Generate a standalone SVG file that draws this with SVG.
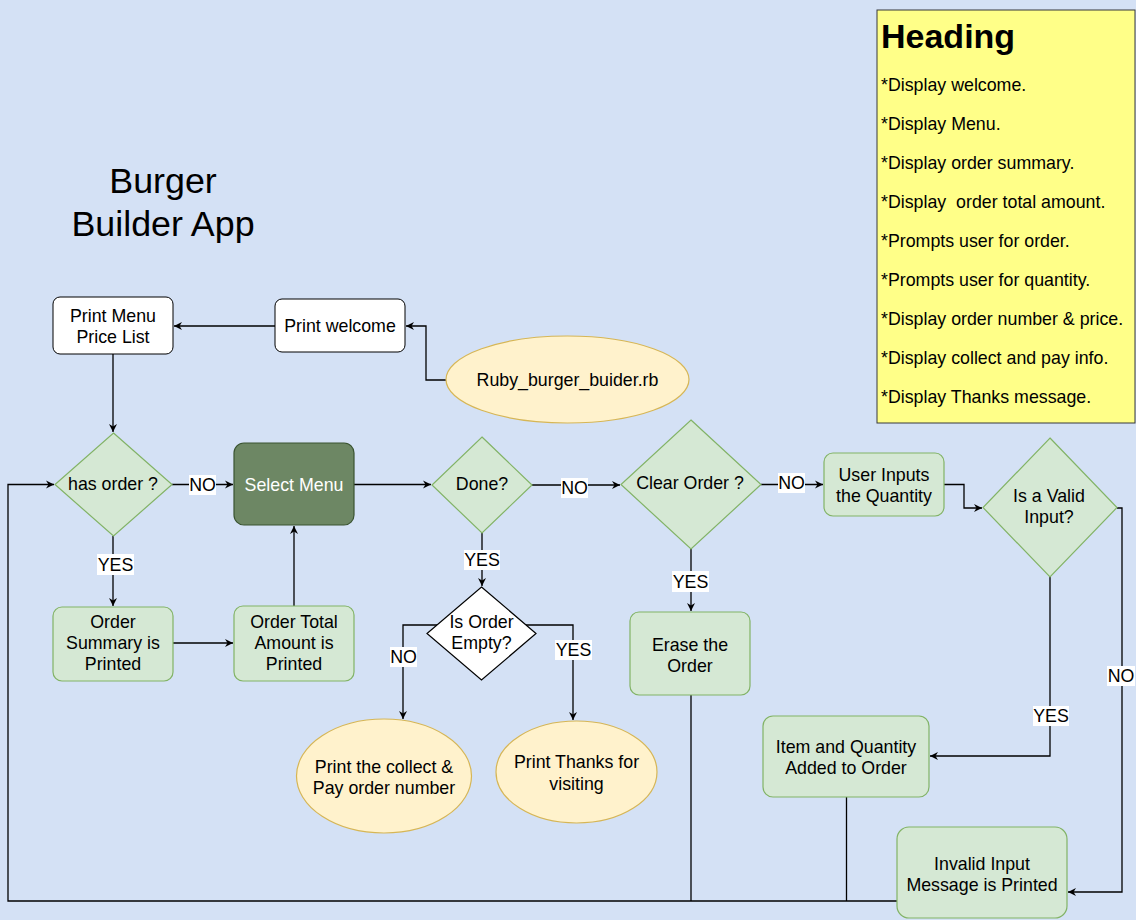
<svg xmlns="http://www.w3.org/2000/svg" width="1136" height="920" viewBox="0 0 1136 920">
<defs>
<marker id="arr" markerWidth="10" markerHeight="10" refX="9" refY="5" orient="auto" markerUnits="userSpaceOnUse">
<path d="M1,1 L9,5 L1,9 L3.5,5 z" fill="#000"/>
</marker>
<style>
text{font-family:"Liberation Sans",Arial,sans-serif;font-size:17.8px;fill:#000;text-anchor:middle}
.box{fill:#fff;stroke:#000;stroke-width:1}
.g{fill:#d5e8d4;stroke:#82b366;stroke-width:1.2}
.y{fill:#fff2cc;stroke:#d6b656;stroke-width:1.2}
.c{fill:none;stroke:#000;stroke-width:1.3}
.ca{fill:none;stroke:#000;stroke-width:1.3;marker-end:url(#arr)}
.lb{fill:#fff}
.left{text-anchor:start}
</style>
</defs>
<rect width="1136" height="920" fill="#d4e1f5"/>

<g id="title">
<text x="163" y="193" style="font-size:35.8px">Burger</text>
<text x="163" y="236" style="font-size:35.8px">Builder App</text>
</g>

<g id="heading">
<rect x="877" y="10" width="258" height="413" fill="#ffff88" stroke="#36393d" stroke-width="1"/>
<text x="881" y="48" class="left" style="font-size:34px;font-weight:bold">Heading</text>
<text x="881" y="91" class="left">*Display welcome.</text>
<text x="881" y="130" class="left">*Display Menu.</text>
<text x="881" y="169" class="left">*Display order summary.</text>
<text x="881" y="208" class="left" xml:space="preserve">*Display  order total amount.</text>
<text x="881" y="247" class="left">*Prompts user for order.</text>
<text x="881" y="286" class="left">*Prompts user for quantity.</text>
<text x="881" y="325" class="left">*Display order number &amp; price.</text>
<text x="881" y="364" class="left">*Display collect and pay info.</text>
<text x="881" y="403" class="left">*Display Thanks message.</text>
</g>

<g id="connectors">
<path class="ca" d="M446,380 H426 V326 H406"/>
<path class="ca" d="M275,326 H174"/>
<path class="ca" d="M113,354 V432"/>
<path class="ca" d="M172,484.5 H233"/>
<path class="ca" d="M113,536 V606"/>
<path class="ca" d="M173,643 H233"/>
<path class="ca" d="M294,606 V526"/>
<path class="ca" d="M354,484.5 H431"/>
<path class="ca" d="M532,485 H620"/>
<path class="ca" d="M482,533 V586"/>
<path class="ca" d="M437,625 H403 V719"/>
<path class="ca" d="M526,625 H573 V720"/>
<path class="ca" d="M691,549 V611"/>
<path class="ca" d="M761,484.5 H823"/>
<path class="ca" d="M944,484.5 H964 V508 H982"/>
<path class="ca" d="M1050,577 V756 H930"/>
<path class="ca" d="M1117,508 H1122 V892 H1068"/>
<path class="c" d="M691,695 V901"/>
<path class="c" d="M846.5,797 V901"/>
<path class="ca" d="M897,901 H8 V484.5 H54"/>
<rect class="lb" x="189" y="475" width="27" height="20"/><text x="202.5" y="491">NO</text>
<rect class="lb" x="97" y="554" width="37" height="21"/><text x="115.5" y="571">YES</text>
<rect class="lb" x="561" y="478" width="27" height="20"/><text x="574.5" y="494">NO</text>
<rect class="lb" x="464" y="550" width="36" height="20"/><text x="482" y="566">YES</text>
<rect class="lb" x="390" y="647" width="27" height="20"/><text x="403.5" y="663">NO</text>
<rect class="lb" x="555" y="640" width="37" height="20"/><text x="573.5" y="656">YES</text>
<rect class="lb" x="672" y="571" width="37" height="21"/><text x="690.5" y="588">YES</text>
<rect class="lb" x="778" y="473" width="27" height="20"/><text x="791.5" y="489">NO</text>
<rect class="lb" x="1033" y="706" width="36" height="20"/><text x="1051" y="722">YES</text>
<rect class="lb" x="1107" y="666" width="28" height="20"/><text x="1121" y="682">NO</text>
</g>

<g id="print-menu">
<rect class="box" x="53" y="297" width="120" height="57" rx="7"/>
<text x="113" y="322">Print Menu</text>
<text x="113" y="343">Price List</text>
</g>
<g id="print-welcome">
<rect class="box" x="275" y="299" width="130" height="53" rx="7"/>
<text x="340" y="332">Print welcome</text>
</g>
<g id="ruby">
<ellipse class="y" cx="567.5" cy="379.5" rx="121.5" ry="43.5"/>
<text x="567.5" y="386">Ruby_burger_buider.rb</text>
</g>
<g id="has-order">
<path class="g" d="M113.5,433 L172,484.5 L113.5,536 L55,484.5 Z"/>
<text x="113" y="490">has order ?</text>
</g>
<g id="select-menu">
<rect x="234" y="443" width="120" height="82" rx="10" fill="#6d8764" stroke="#3a5431" stroke-width="1.2"/>
<text x="294" y="491" style="fill:#fff">Select Menu</text>
</g>
<g id="order-summary">
<rect class="g" x="53" y="607" width="120" height="74" rx="9"/>
<text x="113" y="628">Order</text>
<text x="113" y="649">Summary is</text>
<text x="113" y="670">Printed</text>
</g>
<g id="order-total">
<rect class="g" x="234" y="606" width="120" height="75" rx="9"/>
<text x="294" y="628">Order Total</text>
<text x="294" y="649">Amount is</text>
<text x="294" y="670">Printed</text>
</g>
<g id="done">
<path class="g" d="M482,437 L532,485 L482,533 L432,485 Z"/>
<text x="482" y="490">Done?</text>
</g>
<g id="is-order-empty">
<path d="M481.5,587 L536,633.5 L481.5,680 L427,633.5 Z" fill="#fff" stroke="#000" stroke-width="1.2"/>
<text x="481.5" y="628">Is Order</text>
<text x="481.5" y="649">Empty?</text>
</g>
<g id="print-collect">
<ellipse class="y" cx="384" cy="776" rx="87.5" ry="57"/>
<text x="384" y="773">Print the collect &amp;</text>
<text x="384" y="794">Pay order number</text>
</g>
<g id="print-thanks">
<ellipse class="y" cx="576.5" cy="772" rx="80.5" ry="51"/>
<text x="576.5" y="768">Print Thanks for</text>
<text x="576.5" y="790">visiting</text>
</g>
<g id="clear-order">
<path class="g" d="M691,420 L761,484.5 L691,549 L621,484.5 Z"/>
<text x="690" y="489">Clear Order ?</text>
</g>
<g id="erase-order">
<rect class="g" x="630" y="612" width="120" height="83" rx="9"/>
<text x="690" y="651">Erase the</text>
<text x="690" y="672">Order</text>
</g>
<g id="user-inputs">
<rect class="g" x="824" y="453" width="120" height="63" rx="9"/>
<text x="884" y="481">User Inputs</text>
<text x="884" y="502">the Quantity</text>
</g>
<g id="valid-input">
<path class="g" d="M1050,438 L1117,507.5 L1050,577 L983,507.5 Z"/>
<text x="1049" y="502">Is a Valid</text>
<text x="1049" y="523">Input?</text>
</g>
<g id="item-added">
<rect class="g" x="763" y="716" width="166" height="81" rx="10"/>
<text x="846" y="753">Item and Quantity</text>
<text x="846" y="774">Added to Order</text>
</g>
<g id="invalid-input">
<rect class="g" x="897" y="827" width="170" height="91" rx="12"/>
<text x="982" y="870">Invalid Input</text>
<text x="982" y="891">Message is Printed</text>
</g>
</svg>
